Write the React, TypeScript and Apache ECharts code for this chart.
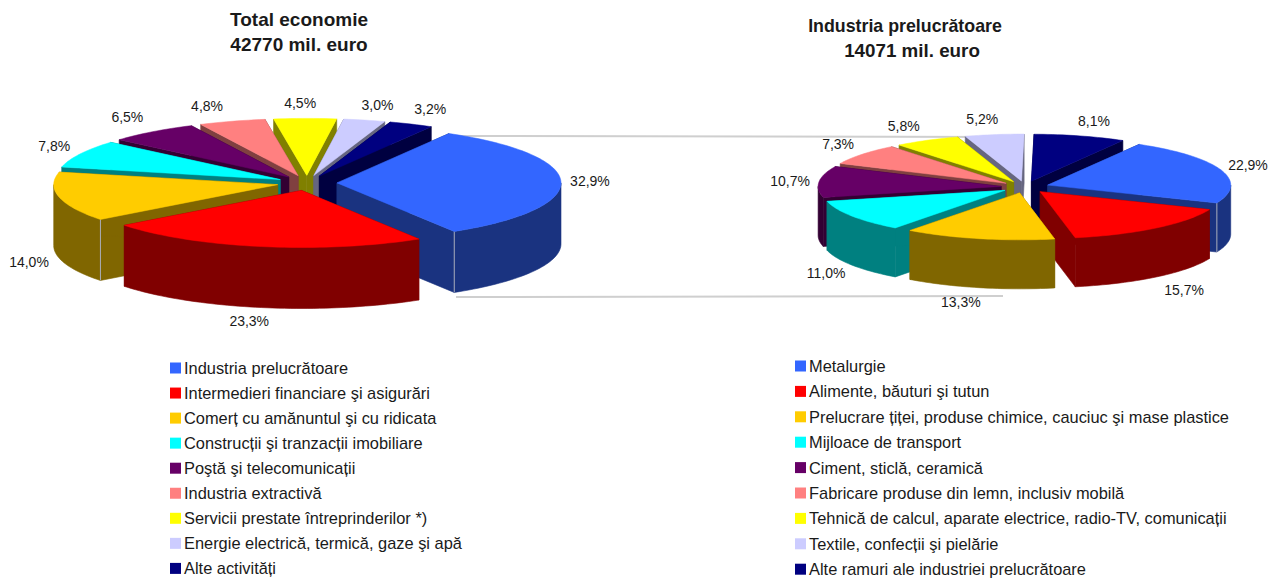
import React, { useEffect, useRef } from "react";
import * as echarts from "echarts";

// ---------- data ----------
const leftNames = [
  "Industria prelucrătoare",
  "Intermedieri financiare şi asigurări",
  "Comerț cu amănuntul şi cu ridicata",
  "Construcții şi tranzacții imobiliare",
  "Poştă şi telecomunicații",
  "Industria extractivă",
  "Servicii prestate întreprinderilor *)",
  "Energie electrică, termică, gaze şi apă",
  "Alte activități",
];
const leftValues = [32.9, 23.3, 14.0, 7.8, 6.5, 4.8, 4.5, 3.0, 3.2];

const rightNames = [
  "Metalurgie",
  "Alimente, băuturi şi tutun",
  "Prelucrare țiței, produse chimice, cauciuc şi mase plastice",
  "Mijloace de transport",
  "Ciment, sticlă, ceramică",
  "Fabricare produse din lemn, inclusiv mobilă",
  "Tehnică de calcul, aparate electrice, radio-TV, comunicații",
  "Textile, confecții şi pielărie",
  "Alte ramuri ale industriei prelucrătoare",
];
const rightValues = [22.9, 15.7, 13.3, 11.0, 10.7, 7.3, 5.8, 5.2, 8.1];

const topColors = ["#3366FF", "#FF0000", "#FFCC00", "#00FFFF", "#660066", "#FF8080", "#FFFF00", "#CCCCFF", "#000080"];
const sideColors = ["#1A3380", "#800000", "#806600", "#008080", "#330033", "#804040", "#808000", "#666680", "#000040"];

// ---------- layout ----------
const leftPie = {
  cx: 307, cy: 183, rx: 224, ry: 57, ex: 30, ey: 7.6, depth: 61, start: -60,
  nudges: [[29, -1], [-12, 74], [-30, 65], [-26, -8], [-25, -15], [-25, -15], [-5, -15], [13, -15], [19, -15]],
  seams: { 0: "end", 2: "start" } as Record<number, string>,
};
const rightPie = {
  cx: 1025, cy: 187, rx: 183, ry: 47, ex: 24, ey: 6, depth: 49, start: -60,
  nudges: [[27, -5], [28, 62], [-18, 63], [-26, 57], [-29, -1], [-24, -10], [-23, -14], [-12, -16], [14, -15]],
  seams: { 0: "end" } as Record<number, string>,
};
const FONT = '"Liberation Sans", Arial, sans-serif';
const rad = (d: number) => (d * Math.PI) / 180;

function buildSeries(names: string[], values: number[], pie: typeof leftPie) {
  const total = values.reduce((a, b) => a + b, 0);
  let angle = pie.start;
  const slices = values.map((v, i) => {
    const a0 = angle;
    const a1 = angle + (v / total) * 360;
    angle = a1;
    return { i, a0, a1, mid: (a0 + a1) / 2 };
  });
  const rank = [...slices].sort((p, q) => Math.sin(rad(p.mid)) - Math.sin(rad(q.mid)));
  return slices.map((s) => ({
    type: "custom",
    name: names[s.i],
    coordinateSystem: "none",
    silent: true,
    z: 3 + rank.indexOf(s),
    itemStyle: { color: topColors[s.i] },
    data: [[values[s.i]]],
    renderItem: () => {
      const ox = pie.cx + pie.ex * Math.cos(rad(s.mid));
      const oy = pie.cy + pie.ey * Math.sin(rad(s.mid));
      const at = (deg: number) => [ox + pie.rx * Math.cos(rad(deg)), oy + pie.ry * Math.sin(rad(deg))];
      const sweep = (from: number, to: number) => {
        const steps = Math.max(4, Math.ceil((to - from) / 1.5));
        const pts: number[][] = [];
        for (let k = 0; k <= steps; k++) pts.push(at(from + ((to - from) * k) / steps));
        return pts;
      };
      const arc = sweep(s.a0, s.a1);
      const apex = [ox, oy];
      const drop = (p: number[]) => [p[0], p[1] + pie.depth];
      const wallStyle = { fill: sideColors[s.i], stroke: sideColors[s.i], lineWidth: 0.6 };
      const first = arc[0];
      const last = arc[arc.length - 1];
      const children: any[] = [
        { type: "polygon", shape: { points: [apex, first, drop(first), drop(apex)] }, style: wallStyle },
        { type: "polygon", shape: { points: [apex, last, drop(last), drop(apex)] }, style: wallStyle },
      ];
      // the rim shows only on the front half of the ellipse
      const frontFrom = Math.max(s.a0, 0);
      const frontTo = Math.min(s.a1, 180);
      if (frontTo > frontFrom) {
        const rim = sweep(frontFrom, frontTo);
        children.push({
          type: "polygon",
          shape: { points: [...rim, ...rim.map(drop).reverse()] },
          style: wallStyle,
        });
      }
      const seam = pie.seams[s.i];
      if (seam) {
        const corner = seam === "end" ? last : first;
        children.push({
          type: "line",
          shape: { x1: corner[0], y1: corner[1], x2: corner[0], y2: corner[1] + pie.depth },
          style: { stroke: "#A9ADBB", lineWidth: 1 },
        });
      }
      children.push({
        type: "polygon",
        shape: { points: [apex, ...arc] },
        style: { fill: topColors[s.i], stroke: topColors[s.i], lineWidth: 0.5 },
      });
      const m = rad(s.mid);
      children.push({
        type: "text",
        style: {
          text: values[s.i].toFixed(1).replace(".", ",") + "%",
          x: pie.cx + (pie.rx + pie.ex) * Math.cos(m) + pie.nudges[s.i][0],
          y: pie.cy + (pie.ry + pie.ey) * Math.sin(m) + pie.nudges[s.i][1],
          align: "center",
          verticalAlign: "middle",
          fill: "#1a1a1a",
          fontSize: 14,
          fontFamily: FONT,
        },
      });
      return { type: "group", children };
    },
  }));
}

const legendBase = {
  orient: "vertical",
  icon: "rect",
  itemWidth: 11,
  itemHeight: 11,
  selectedMode: false,
  padding: 0,
  textStyle: { fontFamily: FONT, fontSize: 16.4, color: "#1a1a1a", padding: [0, 0, 0, -2] },
};

const titleStyle = { fontFamily: FONT, fontWeight: "bold", color: "#1a1a1a" };

export default function App() {
  const ref = useRef<HTMLDivElement>(null);
  useEffect(() => {
    const chart = echarts.init(ref.current!, null, { renderer: "svg" });
    chart.setOption({
      animation: false,
      backgroundColor: "#fff",
      title: [
        {
          text: "Total economie\n42770 mil. euro",
          left: 299,
          top: 7,
          textAlign: "center",
          padding: 0,
          textStyle: { ...titleStyle, fontSize: 19, lineHeight: 25 },
        },
        {
          text: "Industria prelucrătoare",
          left: 905,
          top: 14,
          textAlign: "center",
          padding: 0,
          textStyle: { ...titleStyle, fontSize: 17.8, lineHeight: 24 },
        },
        {
          text: "14071 mil. euro",
          left: 912,
          top: 38,
          textAlign: "center",
          padding: 0,
          textStyle: { ...titleStyle, fontSize: 18.8, lineHeight: 24 },
        },
      ],
      legend: [
        { ...legendBase, left: 170, top: 360, itemGap: 9.05, data: leftNames },
        { ...legendBase, left: 795, top: 358, itemGap: 9.4, data: rightNames },
      ],
      graphic: [
        { type: "line", z: 1, silent: true, shape: { x1: 455, y1: 136, x2: 1023, y2: 137 }, style: { stroke: "#CFCFCF", lineWidth: 2 } },
        { type: "line", z: 1, silent: true, shape: { x1: 456, y1: 297, x2: 1003, y2: 296 }, style: { stroke: "#CFCFCF", lineWidth: 2 } },
      ],
      series: [...buildSeries(leftNames, leftValues, leftPie), ...buildSeries(rightNames, rightValues, rightPie)],
    });
    return () => chart.dispose();
  }, []);
  return <div ref={ref} style={{ position: "absolute", left: 0, top: 0, width: 1270, height: 578 }} />;
}
